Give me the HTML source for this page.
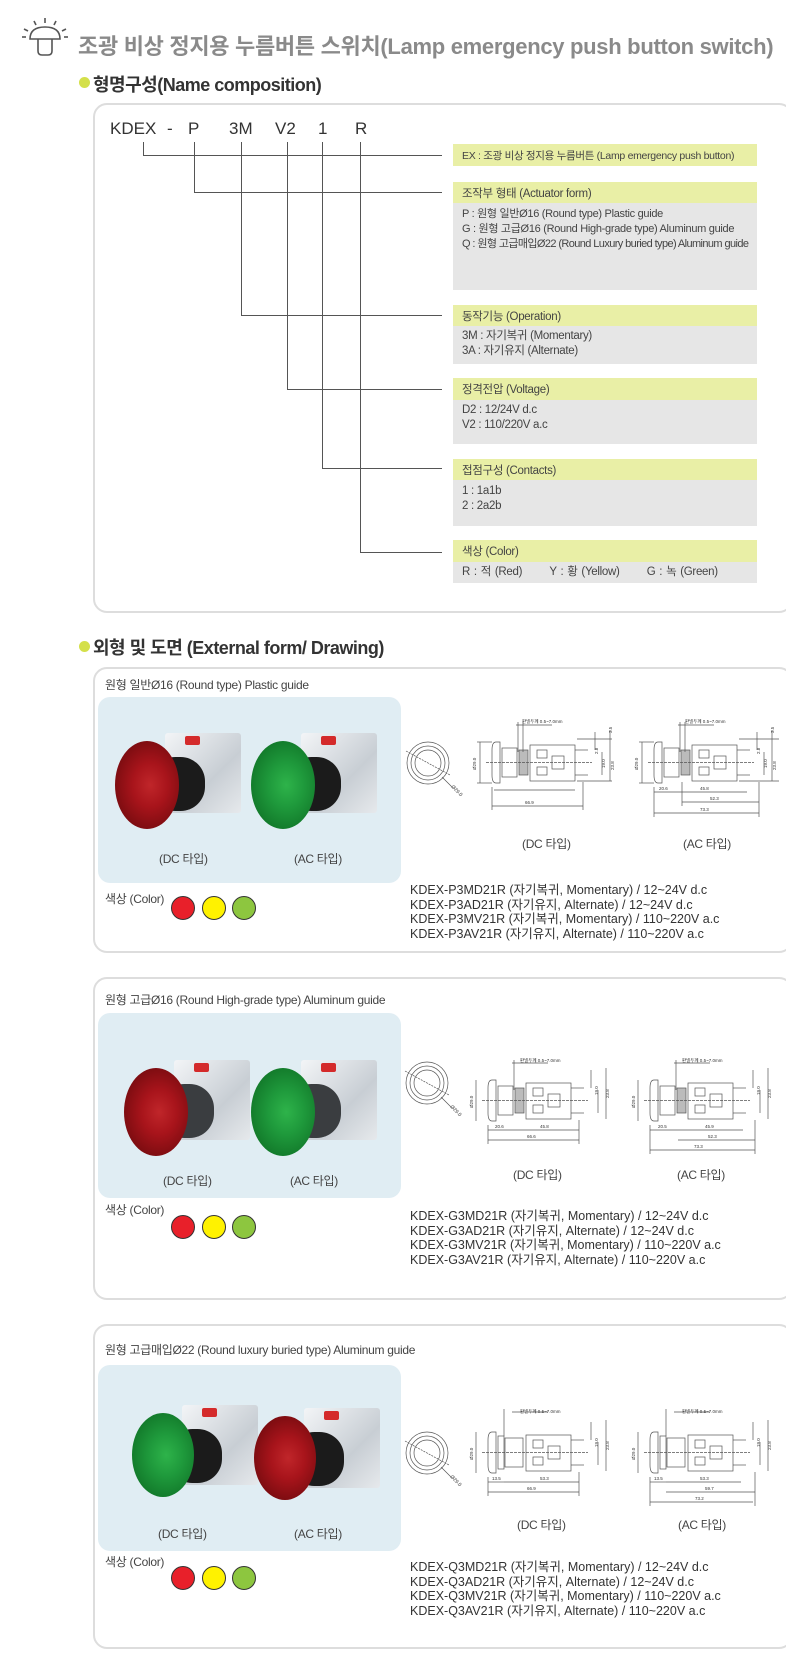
<!DOCTYPE html>
<html><head><meta charset="utf-8">
<style>
*{margin:0;padding:0;box-sizing:border-box}
body{width:786px;height:1675px;background:#fff;position:relative;overflow:hidden;font-family:"Liberation Sans","Noto Sans CJK KR",sans-serif;color:#444}
.a{position:absolute;white-space:nowrap}
.box{position:absolute;border:2px solid #ddd;border-radius:14px;background:#fff}
.hd{font-size:18px;font-weight:bold;color:#333;letter-spacing:-0.5px}
.dot{position:absolute;width:11px;height:11px;border-radius:50%;background:#d4e04a}
.vl{position:absolute;width:1px;background:#555}
.hl{position:absolute;height:1px;background:#555}
.yh{position:absolute;left:453px;width:304px;background:#e9efa6;font-size:11.5px;padding-left:9px;color:#444;display:flex;align-items:center;letter-spacing:-0.3px}
.gb{position:absolute;left:453px;width:304px;background:#e6e6e6;font-size:11.5px;padding-left:9px;color:#444;line-height:15px;letter-spacing:-0.3px}
.panel{position:absolute;left:98px;width:303px;background:#e0edf3;border-radius:12px}
.lbl{font-size:12px;color:#444;letter-spacing:-0.3px}
.t{font-size:12.5px;color:#333;line-height:14.7px}
.c{position:absolute;width:24px;height:24px;border-radius:50%;border:1.5px solid #333}
.btn{position:absolute;width:128px;height:98px}
.btn .blk{position:absolute;left:50px;top:0;width:76px;height:80px;background:linear-gradient(135deg,#f3f5f7,#c8ced4 60%,#e6e9ec);border-radius:3px}
.btn .tab{position:absolute;left:70px;top:3px;width:15px;height:9px;background:#d42a2a;border-radius:2px}
.btn .body{position:absolute;left:36px;top:24px;width:54px;height:54px;border-radius:45%;background:#1b1b1b}
.btn .head{position:absolute;left:0;top:8px;width:64px;height:88px;border-radius:50%}
.red{background:radial-gradient(ellipse at 55% 50%,#c0262a 0,#a8141b 35%,#7a0c10 75%,#d4343a 95%)}
.grn{background:radial-gradient(ellipse at 55% 50%,#2eb34a 0,#1f9a3c 35%,#12792a 75%,#3ccf5e 95%)}
svg text{font-family:"Liberation Sans",sans-serif}
</style></head><body>

<svg class="a" style="left:22px;top:17px" width="46" height="42" viewBox="0 0 46 42">
<g stroke="#555" stroke-width="1.6" fill="none">
<path d="M8 22 Q8 10 23 10 Q38 10 38 22 Z"/>
<path d="M16 22 V34 Q16 38 20 38 H26 Q30 38 30 34 V22"/>
<line x1="23" y1="1" x2="23" y2="6"/><line x1="12" y1="4" x2="14" y2="8"/><line x1="34" y1="4" x2="32" y2="8"/>
<line x1="2" y1="12" x2="6" y2="14"/><line x1="44" y1="12" x2="40" y2="14"/><line x1="0" y1="20" x2="4" y2="20"/><line x1="46" y1="20" x2="42" y2="20"/>
</g></svg>
<div class="a" style="left:78px;top:29px;font-size:22px;font-weight:bold;color:#8a8a8a;letter-spacing:-0.3px">조광 비상 정지용 누름버튼 스위치(Lamp emergency push button switch)</div>

<div class="dot" style="left:79px;top:77px"></div>
<div class="a hd" style="left:93px;top:71px">형명구성(Name composition)</div>

<div class="box" style="left:93px;top:103px;width:700px;height:510px"></div>
<div class="a" style="left:110px;top:119px;font-size:17px;color:#333">KDEX</div>
<div class="a" style="left:167px;top:119px;font-size:17px;color:#333">-</div>
<div class="a" style="left:188px;top:119px;font-size:17px;color:#333">P</div>
<div class="a" style="left:229px;top:119px;font-size:17px;color:#333">3M</div>
<div class="a" style="left:275px;top:119px;font-size:17px;color:#333">V2</div>
<div class="a" style="left:318px;top:119px;font-size:17px;color:#333">1</div>
<div class="a" style="left:355px;top:119px;font-size:17px;color:#333">R</div>

<div class="vl" style="left:143px;top:142px;height:13px"></div>
<div class="vl" style="left:194px;top:142px;height:50px"></div>
<div class="vl" style="left:241px;top:142px;height:173px"></div>
<div class="vl" style="left:287px;top:142px;height:247px"></div>
<div class="vl" style="left:322px;top:142px;height:326px"></div>
<div class="vl" style="left:360px;top:142px;height:410px"></div>
<div class="hl" style="left:143px;top:155px;width:299px"></div>
<div class="hl" style="left:194px;top:192px;width:248px"></div>
<div class="hl" style="left:241px;top:315px;width:201px"></div>
<div class="hl" style="left:287px;top:389px;width:155px"></div>
<div class="hl" style="left:322px;top:468px;width:120px"></div>
<div class="hl" style="left:360px;top:552px;width:82px"></div>

<div class="yh" style="top:144px;height:22px;font-size:10.5px">EX : 조광 비상 정지용 누름버튼 (Lamp emergency push button)</div>
<div class="yh" style="top:182px;height:21px">조작부 형태 (Actuator form)</div>
<div class="gb" style="top:203px;height:87px;padding-top:4px;font-size:11px">P : 원형 일반Ø16 (Round type) Plastic guide<br>G : 원형 고급Ø16 (Round High-grade type) Aluminum guide<br><span style="letter-spacing:-0.6px">Q : 원형 고급매입Ø22 (Round Luxury buried type) Aluminum guide</span></div>
<div class="yh" style="top:305px;height:21px">동작기능 (Operation)</div>
<div class="gb" style="top:326px;height:38px;padding-top:3px">3M : 자기복귀 (Momentary)<br>3A : 자기유지 (Alternate)</div>
<div class="yh" style="top:378px;height:22px">정격전압 (Voltage)</div>
<div class="gb" style="top:400px;height:44px;padding-top:3px">D2 : 12/24V d.c<br>V2 : 110/220V a.c</div>
<div class="yh" style="top:459px;height:21px">접점구성 (Contacts)</div>
<div class="gb" style="top:480px;height:46px;padding-top:4px">1 : 1a1b<br>2 : 2a2b</div>
<div class="yh" style="top:540px;height:22px">색상 (Color)</div>
<div class="gb" style="top:562px;height:21px;padding-top:3px;word-spacing:1px">R : 적 (Red) &nbsp;&nbsp;&nbsp;&nbsp;&nbsp; Y : 황 (Yellow) &nbsp;&nbsp;&nbsp;&nbsp;&nbsp; G : 녹 (Green)</div>

<div class="dot" style="left:79px;top:641px"></div>
<div class="a hd" style="left:93px;top:634px">외형 및 도면 (External form/ Drawing)</div>

<div class="box" style="left:93px;top:667px;width:700px;height:286px"></div>
<div class="box" style="left:93px;top:977px;width:700px;height:323px"></div>
<div class="box" style="left:93px;top:1324px;width:700px;height:325px"></div>

<div class="a lbl" style="left:105px;top:676px">원형 일반Ø16 (Round type) Plastic guide</div>
<div class="panel" style="top:697px;height:186px"></div>
<div class="btn" style="left:115px;top:733px"><div class="blk"></div><div class="tab"></div><div class="body"></div><div class="head red"></div></div>
<div class="btn" style="left:251px;top:733px"><div class="blk"></div><div class="tab"></div><div class="body"></div><div class="head grn"></div></div>
<div class="a lbl" style="left:159px;top:850px">(DC 타입)</div>
<div class="a lbl" style="left:294px;top:850px">(AC 타입)</div>
<div class="a lbl" style="left:105px;top:890px">색상 (Color)</div>
<div class="c" style="left:171px;top:896px;background:#e8202a"></div>
<div class="c" style="left:202px;top:896px;background:#fff200"></div>
<div class="c" style="left:232px;top:896px;background:#8dc63f"></div>
<div class="a lbl" style="left:522px;top:835px">(DC 타입)</div>
<div class="a lbl" style="left:683px;top:835px">(AC 타입)</div>
<div class="a t" style="left:410px;top:883px">KDEX-P3MD21R (자기복귀, Momentary) / 12~24V d.c<br>KDEX-P3AD21R (자기유지, Alternate) / 12~24V d.c<br>KDEX-P3MV21R (자기복귀, Momentary) / 110~220V a.c<br>KDEX-P3AV21R (자기유지, Alternate) / 110~220V a.c</div>

<div class="a lbl" style="left:105px;top:991px">원형 고급Ø16 (Round High-grade type) Aluminum guide</div>
<div class="panel" style="top:1013px;height:185px"></div>
<div class="btn" style="left:124px;top:1060px"><div class="blk"></div><div class="tab"></div><div class="body" style="background:#3a3d40"></div><div class="head red"></div></div>
<div class="btn" style="left:251px;top:1060px"><div class="blk"></div><div class="tab"></div><div class="body" style="background:#3a3d40"></div><div class="head grn"></div></div>
<div class="a lbl" style="left:163px;top:1172px">(DC 타입)</div>
<div class="a lbl" style="left:290px;top:1172px">(AC 타입)</div>
<div class="a lbl" style="left:105px;top:1201px">색상 (Color)</div>
<div class="c" style="left:171px;top:1215px;background:#e8202a"></div>
<div class="c" style="left:202px;top:1215px;background:#fff200"></div>
<div class="c" style="left:232px;top:1215px;background:#8dc63f"></div>
<div class="a lbl" style="left:513px;top:1166px">(DC 타입)</div>
<div class="a lbl" style="left:677px;top:1166px">(AC 타입)</div>
<div class="a t" style="left:410px;top:1209px">KDEX-G3MD21R (자기복귀, Momentary) / 12~24V d.c<br>KDEX-G3AD21R (자기유지, Alternate) / 12~24V d.c<br>KDEX-G3MV21R (자기복귀, Momentary) / 110~220V a.c<br>KDEX-G3AV21R (자기유지, Alternate) / 110~220V a.c</div>

<div class="a lbl" style="left:105px;top:1341px">원형 고급매입Ø22 (Round luxury buried type) Aluminum guide</div>
<div class="panel" style="top:1365px;height:186px"></div>
<div class="btn" style="left:132px;top:1405px"><div class="blk"></div><div class="tab"></div><div class="body"></div><div class="head grn" style="width:62px;height:84px"></div></div>
<div class="btn" style="left:254px;top:1408px"><div class="blk"></div><div class="tab"></div><div class="body"></div><div class="head red" style="width:62px;height:84px"></div></div>
<div class="a lbl" style="left:158px;top:1525px">(DC 타입)</div>
<div class="a lbl" style="left:294px;top:1525px">(AC 타입)</div>
<div class="a lbl" style="left:105px;top:1553px">색상 (Color)</div>
<div class="c" style="left:171px;top:1566px;background:#e8202a"></div>
<div class="c" style="left:202px;top:1566px;background:#fff200"></div>
<div class="c" style="left:232px;top:1566px;background:#8dc63f"></div>
<div class="a lbl" style="left:517px;top:1516px">(DC 타입)</div>
<div class="a lbl" style="left:678px;top:1516px">(AC 타입)</div>
<div class="a t" style="left:410px;top:1560px">KDEX-Q3MD21R (자기복귀, Momentary) / 12~24V d.c<br>KDEX-Q3AD21R (자기유지, Alternate) / 12~24V d.c<br>KDEX-Q3MV21R (자기복귀, Momentary) / 110~220V a.c<br>KDEX-Q3AV21R (자기유지, Alternate) / 110~220V a.c</div>

<svg class="a" style="left:0;top:0" width="786" height="1675">
<g fill="none" stroke="#555" stroke-width="0.7">
<g transform="translate(428,763)"><circle r="21"/><circle r="17"/><circle r="13"/><line x1="-22" y1="-12" x2="22" y2="12" stroke-dasharray="2,1"/><line x1="14" y1="14" x2="24" y2="24"/></g>
<g transform="translate(427,1083)"><circle r="21"/><circle r="17"/><circle r="13"/><line x1="-22" y1="-12" x2="22" y2="12" stroke-dasharray="2,1"/><line x1="14" y1="14" x2="24" y2="24"/></g>
<g transform="translate(427,1453)"><circle r="21"/><circle r="17"/><circle r="13"/><line x1="-22" y1="-12" x2="22" y2="12" stroke-dasharray="2,1"/><line x1="14" y1="14" x2="24" y2="24"/></g>
</g>
<g font-size="5" fill="#333" stroke="none">
<text transform="translate(451,787) rotate(45)">Ø29.0</text>
<text transform="translate(450,1107) rotate(45)">Ø29.0</text>
<text transform="translate(450,1477) rotate(45)">Ø29.0</text>
</g>

<g transform="translate(492,742)" fill="none" stroke="#555" stroke-width="0.7">
<path d="M8 0H4Q0 0 0 8V33Q0 41 4 41H8Z"/><rect x="10" y="6" width="15" height="29"/>
<rect x="27" y="8" width="9" height="25" fill="#bbb"/><rect x="38" y="3" width="45" height="36"/>
<rect x="45" y="8" width="10" height="8"/><rect x="45" y="25" width="10" height="8"/><rect x="60" y="14" width="12" height="13"/>
<line x1="83" y1="8" x2="96" y2="8"/><line x1="83" y1="33" x2="96" y2="33"/><line x1="-6" y1="20.5" x2="100" y2="20.5" stroke-dasharray="3,1"/>
<line x1="-12" y1="0" x2="-12" y2="41"/><line x1="-15" y1="0" x2="0" y2="0"/><line x1="-15" y1="41" x2="0" y2="41"/>
<line x1="24" y1="-17" x2="60" y2="-17"/><line x1="26" y1="-20" x2="26" y2="10"/><line x1="31" y1="-20" x2="31" y2="10"/>
<line x1="103" y1="-10" x2="103" y2="8"/><line x1="118" y1="-12" x2="118" y2="39"/><line x1="110" y1="10" x2="110" y2="33"/>
<line x1="85" y1="-3" x2="120" y2="-3"/><line x1="85" y1="39" x2="120" y2="39"/>
<line x1="0" y1="64" x2="91" y2="64"/><line x1="0" y1="45" x2="0" y2="68"/><line x1="91" y1="40" x2="91" y2="68"/>
<line x1="2" y1="48" x2="31" y2="48"/><line x1="31" y1="48" x2="83" y2="48"/>
</g>
<g font-size="4.5" fill="#333">
<text x="522" y="723">판넬두께 0.5~7.0mm</text><text x="525" y="804">66.9</text>
<text transform="translate(476,770) rotate(-90)">Ø29.0</text>
<text transform="translate(598,754) rotate(-90)">2.8</text><text transform="translate(612,733) rotate(-90)">3.5</text>
<text transform="translate(605,768) rotate(-90)">19.0</text><text transform="translate(614,770) rotate(-90)">23.8</text>
</g>

<g transform="translate(654,742)" fill="none" stroke="#555" stroke-width="0.7">
<path d="M8 0H4Q0 0 0 8V33Q0 41 4 41H8Z"/><rect x="10" y="6" width="15" height="29"/>
<rect x="27" y="8" width="9" height="25" fill="#bbb"/><rect x="38" y="3" width="45" height="36"/>
<rect x="45" y="8" width="10" height="8"/><rect x="45" y="25" width="10" height="8"/><rect x="60" y="14" width="12" height="13"/>
<line x1="83" y1="8" x2="96" y2="8"/><line x1="83" y1="33" x2="96" y2="33"/><line x1="-6" y1="20.5" x2="100" y2="20.5" stroke-dasharray="3,1"/>
<line x1="-12" y1="0" x2="-12" y2="41"/><line x1="-15" y1="0" x2="0" y2="0"/><line x1="-15" y1="41" x2="0" y2="41"/>
<line x1="24" y1="-17" x2="60" y2="-17"/><line x1="26" y1="-20" x2="26" y2="10"/><line x1="31" y1="-20" x2="31" y2="10"/>
<line x1="103" y1="-10" x2="103" y2="8"/><line x1="118" y1="-12" x2="118" y2="39"/><line x1="110" y1="10" x2="110" y2="33"/>
<line x1="85" y1="-3" x2="125" y2="-3"/><line x1="85" y1="39" x2="125" y2="39"/>
<line x1="0" y1="50" x2="28" y2="50"/><line x1="28" y1="50" x2="93" y2="50"/><line x1="28" y1="60" x2="105" y2="60"/><line x1="0" y1="71" x2="105" y2="71"/>
<line x1="0" y1="45" x2="0" y2="75"/><line x1="28" y1="40" x2="28" y2="64"/><line x1="105" y1="40" x2="105" y2="75"/>
</g>
<g font-size="4.5" fill="#333">
<text x="685" y="723">판넬두께 0.5~7.0mm</text><text x="659" y="790">20.6</text><text x="700" y="790">45.8</text><text x="710" y="800">52.3</text><text x="700" y="811">73.3</text>
<text transform="translate(638,770) rotate(-90)">Ø29.0</text>
<text transform="translate(760,754) rotate(-90)">2.8</text><text transform="translate(774,733) rotate(-90)">3.5</text>
<text transform="translate(767,768) rotate(-90)">19.0</text><text transform="translate(776,770) rotate(-90)">23.8</text>
</g>

<g transform="translate(488,1080)" fill="none" stroke="#555" stroke-width="0.7">
<path d="M8 0H4Q0 0 0 8V33Q0 41 4 41H8Z"/><rect x="10" y="6" width="15" height="29"/>
<rect x="27" y="8" width="9" height="25" fill="#bbb"/><rect x="38" y="3" width="45" height="36"/>
<rect x="45" y="8" width="10" height="8"/><rect x="45" y="25" width="10" height="8"/><rect x="60" y="14" width="12" height="13"/>
<line x1="83" y1="8" x2="96" y2="8"/><line x1="83" y1="33" x2="96" y2="33"/><line x1="-6" y1="20.5" x2="100" y2="20.5" stroke-dasharray="3,1"/>
<line x1="-12" y1="0" x2="-12" y2="41"/><line x1="24" y1="-17" x2="60" y2="-17"/><line x1="26" y1="-20" x2="26" y2="10"/>
<line x1="103" y1="-10" x2="103" y2="8"/><line x1="118" y1="-12" x2="118" y2="39"/><line x1="110" y1="10" x2="110" y2="33"/>
<line x1="0" y1="50" x2="28" y2="50"/><line x1="28" y1="50" x2="91" y2="50"/><line x1="0" y1="60" x2="91" y2="60"/>
<line x1="0" y1="45" x2="0" y2="64"/><line x1="91" y1="40" x2="91" y2="64"/>
</g>
<g font-size="4.5" fill="#333"><text x="520" y="1062">판넬두께 0.5~7.0mm</text><text x="495" y="1128">20.6</text><text x="540" y="1128">45.8</text><text x="527" y="1138">66.6</text>
<text transform="translate(473,1108) rotate(-90)">Ø29.0</text><text transform="translate(598,1095) rotate(-90)">19.0</text><text transform="translate(609,1098) rotate(-90)">23.8</text></g>
<g transform="translate(650,1080)" fill="none" stroke="#555" stroke-width="0.7">
<path d="M8 0H4Q0 0 0 8V33Q0 41 4 41H8Z"/><rect x="10" y="6" width="15" height="29"/>
<rect x="27" y="8" width="9" height="25" fill="#bbb"/><rect x="38" y="3" width="45" height="36"/>
<rect x="45" y="8" width="10" height="8"/><rect x="45" y="25" width="10" height="8"/><rect x="60" y="14" width="12" height="13"/>
<line x1="83" y1="8" x2="96" y2="8"/><line x1="83" y1="33" x2="96" y2="33"/><line x1="-6" y1="20.5" x2="100" y2="20.5" stroke-dasharray="3,1"/>
<line x1="-12" y1="0" x2="-12" y2="41"/><line x1="24" y1="-17" x2="60" y2="-17"/><line x1="26" y1="-20" x2="26" y2="10"/>
<line x1="103" y1="-10" x2="103" y2="8"/><line x1="118" y1="-12" x2="118" y2="39"/><line x1="110" y1="10" x2="110" y2="33"/>
<line x1="0" y1="50" x2="28" y2="50"/><line x1="28" y1="50" x2="93" y2="50"/><line x1="28" y1="60" x2="105" y2="60"/><line x1="0" y1="70" x2="105" y2="70"/>
<line x1="0" y1="45" x2="0" y2="74"/><line x1="105" y1="40" x2="105" y2="74"/>
</g>
<g font-size="4.5" fill="#333"><text x="682" y="1062">판넬두께 0.5~7.0mm</text><text x="658" y="1128">20.5</text><text x="705" y="1128">45.9</text><text x="708" y="1138">52.3</text><text x="694" y="1148">73.3</text>
<text transform="translate(635,1108) rotate(-90)">Ø29.0</text><text transform="translate(760,1095) rotate(-90)">19.0</text><text transform="translate(771,1098) rotate(-90)">23.8</text></g>

<g transform="translate(488,1432)" fill="none" stroke="#555" stroke-width="0.7">
<path d="M8 0H4Q0 0 0 8V33Q0 41 4 41H8Z"/><rect x="10" y="4" width="6" height="33"/><rect x="17" y="6" width="18" height="29"/>
<rect x="38" y="3" width="45" height="36"/><rect x="45" y="8" width="10" height="8"/><rect x="45" y="25" width="10" height="8"/><rect x="60" y="14" width="12" height="13"/>
<line x1="83" y1="8" x2="96" y2="8"/><line x1="83" y1="33" x2="96" y2="33"/><line x1="-6" y1="20.5" x2="100" y2="20.5" stroke-dasharray="3,1"/>
<line x1="-12" y1="0" x2="-12" y2="41"/><line x1="24" y1="-20" x2="60" y2="-20"/><line x1="16" y1="-23" x2="16" y2="4"/>
<line x1="103" y1="-10" x2="103" y2="8"/><line x1="118" y1="-12" x2="118" y2="39"/><line x1="110" y1="10" x2="110" y2="33"/>
<line x1="0" y1="50" x2="16" y2="50"/><line x1="16" y1="50" x2="91" y2="50"/><line x1="0" y1="60" x2="91" y2="60"/>
<line x1="0" y1="45" x2="0" y2="64"/><line x1="91" y1="40" x2="91" y2="64"/>
</g>
<g font-size="4.5" fill="#333"><text x="520" y="1413">판넬두께 0.5~7.0mm</text><text x="492" y="1480">13.5</text><text x="540" y="1480">53.3</text><text x="527" y="1490">66.9</text>
<text transform="translate(473,1460) rotate(-90)">Ø29.0</text><text transform="translate(598,1447) rotate(-90)">19.0</text><text transform="translate(609,1450) rotate(-90)">23.8</text></g>
<g transform="translate(650,1432)" fill="none" stroke="#555" stroke-width="0.7">
<path d="M8 0H4Q0 0 0 8V33Q0 41 4 41H8Z"/><rect x="10" y="4" width="6" height="33"/><rect x="17" y="6" width="18" height="29"/>
<rect x="38" y="3" width="45" height="36"/><rect x="45" y="8" width="10" height="8"/><rect x="45" y="25" width="10" height="8"/><rect x="60" y="14" width="12" height="13"/>
<line x1="83" y1="8" x2="96" y2="8"/><line x1="83" y1="33" x2="96" y2="33"/><line x1="-6" y1="20.5" x2="100" y2="20.5" stroke-dasharray="3,1"/>
<line x1="-12" y1="0" x2="-12" y2="41"/><line x1="24" y1="-20" x2="60" y2="-20"/><line x1="16" y1="-23" x2="16" y2="4"/>
<line x1="103" y1="-10" x2="103" y2="8"/><line x1="118" y1="-12" x2="118" y2="39"/><line x1="110" y1="10" x2="110" y2="33"/>
<line x1="0" y1="50" x2="16" y2="50"/><line x1="16" y1="50" x2="91" y2="50"/><line x1="16" y1="60" x2="105" y2="60"/><line x1="0" y1="70" x2="103" y2="70"/>
<line x1="0" y1="45" x2="0" y2="74"/><line x1="105" y1="40" x2="105" y2="74"/>
</g>
<g font-size="4.5" fill="#333"><text x="682" y="1413">판넬두께 0.5~7.0mm</text><text x="654" y="1480">13.5</text><text x="700" y="1480">53.3</text><text x="705" y="1490">59.7</text><text x="695" y="1500">73.2</text>
<text transform="translate(635,1460) rotate(-90)">Ø29.0</text><text transform="translate(760,1447) rotate(-90)">19.0</text><text transform="translate(771,1450) rotate(-90)">23.8</text></g>
</svg>
</body></html>
